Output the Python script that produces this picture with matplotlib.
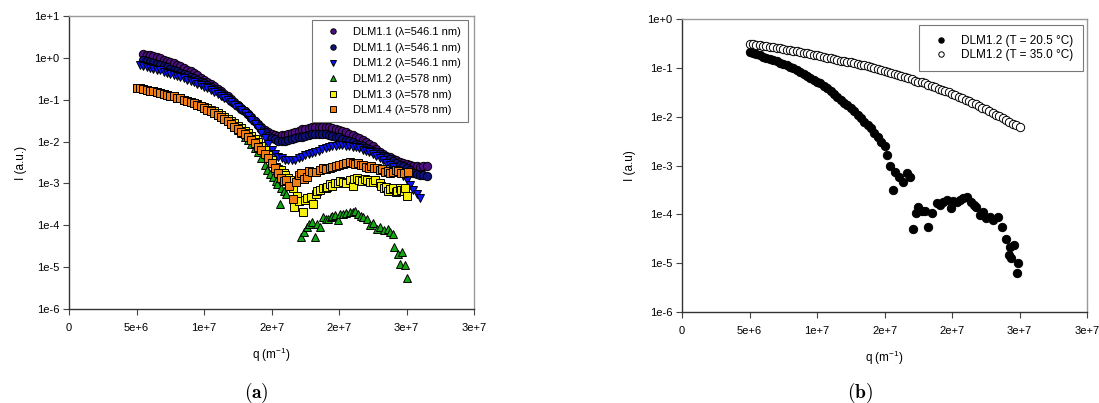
import matplotlib
matplotlib.use("Agg")
import matplotlib.pyplot as plt
import numpy as np
from matplotlib.ticker import FixedLocator, FixedFormatter, NullLocator

plt.rcParams['font.family'] = ['Liberation Sans', 'DejaVu Sans']
plt.rcParams['mathtext.fontset'] = 'custom'
plt.rcParams['mathtext.rm'] = 'Liberation Sans'

# ---- data (q in units of 1e6 m^-1, intensities as log10) ----

# (a) both DLM1.1 runs share one q grid
q_dlm11 = [5.5, 5.75,
           6.0, 6.25, 6.5, 6.75, 7.0, 7.25, 7.5, 7.75, 8.0, 8.25, 8.5, 8.75,
           9.0, 9.25, 9.5, 9.75, 10.0, 10.25, 10.5, 10.75, 11.0, 11.25, 11.5, 11.75,
           12.0, 12.25, 12.5, 12.75, 13.0, 13.25, 13.5, 13.75, 14.0, 14.25, 14.5, 14.75,
           15.0, 15.25, 15.5, 15.75, 16.0, 16.25, 16.5, 16.75, 17.0, 17.25, 17.5, 17.75,
           18.0, 18.25, 18.5, 18.75, 19.0, 19.25, 19.5, 19.75, 20.0, 20.25, 20.5, 20.75,
           21.0, 21.25, 21.5, 21.75, 22.0, 22.25, 22.5, 22.75, 23.0, 23.25, 23.5, 23.75,
           24.0, 24.25, 24.5, 24.75, 25.0, 25.25, 25.5, 25.75,
           26.0, 26.25, 26.5]
logI_dlm11_a = [0.10, 0.08,
                0.06, 0.04, 0.02, -0.01, -0.04, -0.07, -0.10, -0.13, -0.17, -0.20, -0.24, -0.28,
                -0.32, -0.37, -0.42, -0.47, -0.52, -0.57, -0.62, -0.68, -0.74, -0.80, -0.86, -0.92,
                -0.98, -1.05, -1.12, -1.19, -1.27, -1.34, -1.42, -1.50, -1.58, -1.65, -1.72, -1.77,
                -1.82, -1.84, -1.86, -1.85, -1.84, -1.82, -1.80, -1.77, -1.74, -1.71, -1.69, -1.67,
                -1.66, -1.65, -1.64, -1.64, -1.64, -1.65, -1.67, -1.69, -1.72, -1.75, -1.78, -1.81,
                -1.85, -1.88, -1.92, -1.96, -2.00, -2.05, -2.10, -2.17, -2.24, -2.29, -2.34, -2.38,
                -2.42, -2.45, -2.48, -2.50, -2.53, -2.55, -2.58, -2.59,
                -2.60, -2.59, -2.58]
logI_dlm11_b = [-0.06, -0.08,
                -0.10, -0.12, -0.15, -0.17, -0.20, -0.23, -0.26, -0.29, -0.32, -0.35, -0.38, -0.41,
                -0.45, -0.49, -0.53, -0.57, -0.61, -0.65, -0.70, -0.75, -0.80, -0.85, -0.90, -0.96,
                -1.02, -1.08, -1.14, -1.21, -1.28, -1.35, -1.43, -1.51, -1.60, -1.69, -1.78, -1.86,
                -1.92, -1.95, -1.98, -1.98, -1.98, -1.97, -1.95, -1.92, -1.90, -1.88, -1.86, -1.84,
                -1.83, -1.82, -1.82, -1.82, -1.83, -1.84, -1.86, -1.88, -1.90, -1.93, -1.96, -1.99,
                -2.02, -2.05, -2.08, -2.11, -2.15, -2.18, -2.22, -2.26, -2.30, -2.34, -2.38, -2.42,
                -2.46, -2.50, -2.55, -2.59, -2.63, -2.68, -2.74, -2.77,
                -2.80, -2.81, -2.82]

q_dlm12_546 = [5.25, 5.5, 5.75,
               6.0, 6.25, 6.5, 6.75, 7.0, 7.25, 7.5, 7.75, 8.0, 8.25, 8.5, 8.75,
               9.0, 9.25, 9.5, 9.75, 10.0, 10.25, 10.5, 10.75, 11.0, 11.25, 11.5, 11.75,
               12.0, 12.25, 12.5, 12.75, 13.0, 13.25, 13.5, 13.75, 14.0, 14.25, 14.5, 14.75,
               15.0, 15.25, 15.5, 15.75, 16.0, 16.25, 16.5, 16.75, 17.0, 17.25, 17.5, 17.75,
               18.0, 18.25, 18.5, 18.75, 19.0, 19.25, 19.5, 19.75, 20.0, 20.25, 20.5, 20.75,
               21.0, 21.25, 21.5, 21.75, 22.0, 22.25, 22.5, 22.75, 23.0, 23.25, 23.5, 23.75,
               24.0, 24.25, 24.5, 24.75, 25.0, 25.25, 25.5, 25.75, 26.0]
logI_dlm12_546 = [-0.16, -0.19, -0.22,
                  -0.24, -0.26, -0.28, -0.30, -0.33, -0.35, -0.38, -0.40, -0.43, -0.46, -0.49, -0.52,
                  -0.55, -0.58, -0.62, -0.65, -0.69, -0.73, -0.77, -0.81, -0.86, -0.91, -0.96, -1.01,
                  -1.06, -1.12, -1.18, -1.25, -1.32, -1.40, -1.48, -1.58, -1.68, -1.80, -1.92, -2.06,
                  -2.20, -2.29, -2.36, -2.40, -2.43, -2.45, -2.45, -2.43, -2.40, -2.37, -2.33, -2.30,
                  -2.27, -2.25, -2.22, -2.18, -2.15, -2.13, -2.11, -2.10, -2.09, -2.09, -2.10, -2.11,
                  -2.12, -2.14, -2.16, -2.19, -2.22, -2.26, -2.30, -2.35, -2.40, -2.45, -2.50, -2.55,
                  -2.60, -2.67, -2.75, -2.83, -2.92, -3.03, -3.15, -3.26, -3.34]

q_dlm12_578 = [5.0, 5.25, 5.5, 5.75, 6.0, 6.25, 6.5, 6.75, 7.0, 7.25, 7.5, 7.75,
               8.0, 8.25, 8.5, 8.75, 9.0, 9.25, 9.5, 9.75, 10.0, 10.25, 10.5, 10.75,
               11.0, 11.25, 11.5, 11.75, 12.0, 12.25, 12.5, 12.75, 13.0, 13.25, 13.5, 13.75,
               14.0, 14.25, 14.5, 14.7, 14.9, 15.1, 15.3, 15.4, 15.6, 15.7, 15.9, 16.1,
               17.2, 17.4, 17.6, 17.8, 18.0, 18.2, 18.4, 18.6, 18.8, 19.0, 19.2, 19.4,
               19.5, 19.7, 19.9, 20.1, 20.3, 20.5, 20.8, 21.0, 21.2, 21.4, 21.6, 21.8,
               22.1, 22.3, 22.5, 22.8, 23.0, 23.3, 23.6, 23.8, 24.0, 24.1, 24.4, 24.5,
               24.7, 24.9, 25.0]
logI_dlm12_578 = [-0.72, -0.73, -0.75, -0.76, -0.78, -0.80, -0.82, -0.84, -0.86, -0.88, -0.90, -0.92,
                  -0.95, -0.97, -1.00, -1.03, -1.06, -1.09, -1.12, -1.15, -1.19, -1.23, -1.27, -1.31,
                  -1.36, -1.41, -1.46, -1.52, -1.58, -1.65, -1.72, -1.80, -1.88, -1.96, -2.05, -2.15,
                  -2.25, -2.40, -2.55, -2.68, -2.78, -2.85, -2.95, -3.02, -3.50, -3.10, -3.17, -3.25,
                  -4.29, -4.15, -4.05, -3.98, -3.93, -4.29, -3.98, -4.05, -3.81, -3.86, -3.85, -3.80,
                  -3.77, -3.75, -3.88, -3.74, -3.72, -3.70, -3.69, -3.68, -3.65, -3.72, -3.77, -3.80,
                  -3.84, -4.00, -3.95, -4.08, -4.05, -4.12, -4.08, -4.15, -4.20, -4.53, -4.68, -4.92,
                  -4.65, -4.96, -5.25]

q_dlm13_578 = [5.0, 5.25, 5.5, 5.75, 6.0, 6.25, 6.5, 6.75, 7.0, 7.25, 7.5, 7.75,
               8.0, 8.25, 8.5, 8.75, 9.0, 9.25, 9.5, 9.75, 10.0, 10.25, 10.5, 10.75,
               11.0, 11.25, 11.5, 11.75, 12.0, 12.25, 12.5, 12.75, 13.0, 13.25, 13.5, 13.75,
               14.0, 14.25, 14.5, 14.75, 15.0, 15.3, 15.5, 15.7, 15.9, 16.0, 16.2, 16.4,
               16.6, 16.7, 16.9, 17.0, 17.3, 17.5, 17.6, 17.9, 18.1, 18.3, 18.4, 18.6,
               18.8, 19.0, 19.1, 19.3, 19.5, 19.7, 19.9, 20.1, 20.3, 20.5, 20.8, 21.0,
               21.1, 21.3, 21.5, 21.7, 21.9, 22.1, 22.3, 22.5, 22.7, 23.0, 23.1, 23.3,
               23.5, 23.6, 23.8, 24.0, 24.2, 24.3, 24.5, 24.6, 24.8, 24.9, 25.0]
logI_dlm13_578 = [-0.72, -0.73, -0.75, -0.76, -0.78, -0.80, -0.82, -0.84, -0.86, -0.88, -0.90, -0.92,
                  -0.95, -0.97, -1.00, -1.02, -1.05, -1.08, -1.11, -1.14, -1.17, -1.20, -1.24, -1.28,
                  -1.32, -1.36, -1.41, -1.46, -1.51, -1.56, -1.62, -1.68, -1.74, -1.80, -1.87, -1.94,
                  -2.02, -2.11, -2.20, -2.32, -2.45, -2.60, -2.65, -2.69, -2.75, -2.80, -2.86, -2.93,
                  -3.12, -3.57, -3.30, -3.41, -3.69, -3.40, -3.35, -3.33, -3.48, -3.25, -3.17, -3.15,
                  -3.12, -3.10, -3.09, -3.02, -3.05, -3.00, -3.00, -2.95, -2.97, -3.00, -2.93, -3.05,
                  -2.90, -2.88, -2.93, -2.95, -2.90, -2.93, -2.96, -2.97, -2.92, -3.00, -3.05, -3.10,
                  -3.08, -3.17, -3.13, -3.12, -3.20, -3.17, -3.10, -3.15, -3.18, -3.12, -3.29]

q_dlm14_578 = [5.0, 5.25, 5.5, 5.75, 6.0, 6.25, 6.5, 6.75, 7.0, 7.25, 7.5, 7.75,
               8.0, 8.25, 8.5, 8.75, 9.0, 9.25, 9.5, 9.75, 10.0, 10.25, 10.5, 10.75,
               11.0, 11.25, 11.5, 11.75, 12.0, 12.25, 12.5, 12.75, 13.0, 13.25, 13.5, 13.75,
               14.0, 14.25, 14.5, 14.75, 15.0, 15.25, 15.5, 15.7, 15.9, 16.1, 16.3, 16.6,
               16.8, 17.0, 17.2, 17.4, 17.6, 17.8, 18.0, 18.3, 18.6, 18.8, 19.0, 19.3,
               19.5, 19.8, 20.0, 20.3, 20.5, 20.8, 21.0, 21.2, 21.4, 21.6, 21.8, 22.0,
               22.2, 22.4, 22.6, 22.8, 23.0, 23.2, 23.4, 23.6, 23.8, 24.0, 24.2, 24.4,
               24.6, 24.8, 25.1]
logI_dlm14_578 = [-0.72, -0.73, -0.75, -0.76, -0.78, -0.80, -0.82, -0.84, -0.86, -0.88, -0.90, -0.92,
                  -0.95, -0.97, -1.00, -1.03, -1.06, -1.09, -1.12, -1.16, -1.20, -1.24, -1.28, -1.32,
                  -1.37, -1.42, -1.47, -1.52, -1.58, -1.64, -1.70, -1.76, -1.82, -1.89, -1.96, -2.04,
                  -2.12, -2.21, -2.30, -2.40, -2.50, -2.62, -2.75, -2.88, -2.95, -2.92, -3.05, -3.38,
                  -2.97, -2.80, -2.75, -2.90, -2.85, -2.70, -2.73, -2.72, -2.69, -2.64, -2.66, -2.62,
                  -2.60, -2.58, -2.57, -2.54, -2.52, -2.49, -2.51, -2.53, -2.50, -2.57, -2.55, -2.60,
                  -2.62, -2.58, -2.63, -2.64, -2.68, -2.66, -2.72, -2.70, -2.75, -2.73, -2.68, -2.70,
                  -2.76, -2.74, -2.72]

# (b) DLM1.2 at two temperatures
q_35 = [5.00, 5.25, 5.50, 5.75, 6.00, 6.25, 6.50, 6.75, 7.00, 7.25, 7.50, 7.75, 8.00,
        8.25, 8.50, 8.75, 9.00, 9.25, 9.50, 9.75, 10.00, 10.25, 10.50, 10.75, 11.00,
        11.25, 11.50, 11.75, 12.00, 12.25, 12.50, 12.75, 13.00, 13.25, 13.50, 13.75,
        14.00, 14.25, 14.50, 14.75, 15.00, 15.25, 15.50, 15.75, 16.00, 16.25, 16.50,
        16.75, 17.00, 17.25, 17.50, 17.75, 18.00, 18.25, 18.50, 18.75, 19.00, 19.25,
        19.50, 19.75, 20.00, 20.25, 20.50, 20.75, 21.00, 21.25, 21.50, 21.75, 22.00,
        22.25, 22.50, 22.75, 23.00, 23.25, 23.50, 23.75, 24.00, 24.25, 24.50, 24.75, 25.00]
logI_35 = [-0.51, -0.52, -0.53, -0.54, -0.55, -0.56, -0.57, -0.58, -0.59, -0.60, -0.61,
           -0.63, -0.64, -0.65, -0.66, -0.68, -0.69, -0.70, -0.71, -0.73, -0.74, -0.76,
           -0.77, -0.79, -0.80, -0.82, -0.83, -0.85, -0.86, -0.88, -0.89, -0.91, -0.92,
           -0.94, -0.95, -0.97, -0.98, -1.00, -1.02, -1.04, -1.06, -1.08, -1.10, -1.12,
           -1.14, -1.17, -1.19, -1.21, -1.23, -1.26, -1.28, -1.30, -1.32, -1.35, -1.38,
           -1.40, -1.43, -1.45, -1.48, -1.50, -1.53, -1.56, -1.59, -1.62, -1.65, -1.68,
           -1.71, -1.75, -1.78, -1.82, -1.85, -1.89, -1.92, -1.96, -1.99, -2.03, -2.06,
           -2.10, -2.14, -2.17, -2.21]

q_20 = [5.00, 5.25, 5.50, 5.75, 6.00, 6.25, 6.50, 6.75, 7.00, 7.25, 7.50, 7.75, 8.00,
        8.25, 8.50, 8.75, 9.00, 9.25, 9.50, 9.75, 10.00, 10.25, 10.50, 10.75, 11.00,
        11.25, 11.50, 11.75, 12.00, 12.25, 12.50, 12.75, 13.00, 13.25, 13.50, 13.75,
        14.00, 14.25, 14.50, 14.75, 15.00, 15.2, 15.4, 15.6, 15.8, 16.1, 16.4, 16.7,
        16.9, 17.1, 17.3, 17.5, 17.8, 18.0, 18.2, 18.5, 18.9, 19.1, 19.3, 19.6, 19.9,
        20.1, 20.4, 20.6, 20.8, 21.1, 21.4, 21.6, 21.8, 22.1, 22.3, 22.5, 22.8, 23.0,
        23.4, 23.7, 24.0, 24.2, 24.3, 24.4, 24.6, 24.8, 24.9]
logI_20 = [-0.68, -0.70, -0.72, -0.74, -0.77, -0.79, -0.82, -0.84, -0.87, -0.90, -0.93,
           -0.95, -0.98, -1.01, -1.05, -1.08, -1.12, -1.16, -1.20, -1.24, -1.28, -1.32,
           -1.37, -1.42, -1.48, -1.53, -1.59, -1.65, -1.71, -1.76, -1.82, -1.89, -1.96,
           -2.03, -2.10, -2.17, -2.24, -2.33, -2.42, -2.51, -2.60, -2.79, -3.01, -3.50,
           -3.14, -3.24, -3.34, -3.16, -3.24, -4.30, -3.98, -3.86, -3.93, -3.93, -4.26,
           -3.97, -3.77, -3.80, -3.75, -3.71, -3.87, -3.72, -3.75, -3.70, -3.67, -3.65,
           -3.75, -3.80, -3.85, -4.02, -3.95, -4.08, -4.06, -4.12, -4.06, -4.26, -4.51,
           -4.84, -4.67, -4.90, -4.63, -5.21, -5.00]

x_ticks = [0, 5e6, 1e7, 1.5e7, 2e7, 2.5e7, 3e7]
x_ticklabels = ["0", "5e+6", "1e+7", "2e+7", "2e+7", "3e+7", "3e+7"]


def to_xy(q, logI):
    n = min(len(q), len(logI))
    return np.array(q[:n]) * 1e6, 10.0 ** np.array(logI[:n])


def style_axes(ax, ymax_exp):
    ax.set_yscale('log')
    ax.set_xlim(0, 3e7)
    ax.set_ylim(1e-6, 10.0 ** ymax_exp)
    exps = list(range(-6, ymax_exp + 1))
    ax.yaxis.set_major_locator(FixedLocator([10.0 ** e for e in exps]))
    ax.yaxis.set_major_formatter(FixedFormatter(["1e%+d" % e for e in exps]))
    ax.yaxis.set_minor_locator(NullLocator())
    ax.xaxis.set_major_locator(FixedLocator(x_ticks))
    ax.xaxis.set_major_formatter(FixedFormatter(x_ticklabels))
    ax.tick_params(axis='both', direction='out', length=4, width=0.8,
                   labelsize=8, color='#444444')
    ax.tick_params(axis='y', pad=3)
    ax.tick_params(axis='x', pad=6)
    for s in ['left', 'bottom']:
        ax.spines[s].set_color('#333333')
        ax.spines[s].set_linewidth(1.0)
    for s in ['top', 'right']:
        ax.spines[s].set_color('#999999')
        ax.spines[s].set_linewidth(1.0)
    ax.set_xlabel(r'q (m$^{\mathregular{-1}}$)', fontsize=8.5, labelpad=9)


fig = plt.figure(figsize=(10.99, 4.03), dpi=100)
ax1 = fig.add_axes([69 / 1099, 94 / 403, 405 / 1099, 293 / 403])
ax2 = fig.add_axes([682 / 1099, 91 / 403, 405 / 1099, 293 / 403])

mk = dict(linestyle='none', markersize=6, markeredgecolor='black', markeredgewidth=0.7)

series_a = [
    (q_dlm11, logI_dlm11_a, 'o', '#4d0f80', 'DLM1.1 (λ=546.1 nm)'),
    (q_dlm11, logI_dlm11_b, 'o', '#10107a', 'DLM1.1 (λ=546.1 nm)'),
    (q_dlm12_546, logI_dlm12_546, 'v', '#0a14f5', 'DLM1.2 (λ=546.1 nm)'),
    (q_dlm12_578, logI_dlm12_578, '^', '#13a813', 'DLM1.2 (λ=578 nm)'),
    (q_dlm13_578, logI_dlm13_578, 's', '#f5f00f', 'DLM1.3 (λ=578 nm)'),
    (q_dlm14_578, logI_dlm14_578, 's', '#f27d12', 'DLM1.4 (λ=578 nm)'),
]
for q, li, m, c, lab in series_a:
    x, y = to_xy(q, li)
    ax1.plot(x, y, marker=m, markerfacecolor=c, label=lab, **mk)

style_axes(ax1, 1)
ax1.set_ylabel('I (a.u.)', fontsize=8.5, labelpad=5)
leg1 = ax1.legend(loc='upper right', bbox_to_anchor=(0.985, 0.986), borderaxespad=0,
                  fontsize=8, frameon=True, fancybox=False, edgecolor='#555555',
                  markerscale=0.65, handletextpad=0.55, labelspacing=0.5,
                  borderpad=0.65, handlelength=2.5)
leg1.get_frame().set_linewidth(0.8)

x, y = to_xy(q_20, logI_20)
ax2.plot(x, y, marker='o', markerfacecolor='black', label='DLM1.2 (T = 20.5 °C)', **mk)
x, y = to_xy(q_35, logI_35)
ax2.plot(x, y, marker='o', markerfacecolor='white', label='DLM1.2 (T = 35.0 °C)', **mk)

style_axes(ax2, 0)
ax2.set_ylabel('I (a.u)', fontsize=8.5, labelpad=8)
leg2 = ax2.legend(loc='upper right', bbox_to_anchor=(0.99, 0.98), borderaxespad=0,
                  fontsize=8.5, frameon=True, fancybox=False, edgecolor='#555555',
                  markerscale=0.65, handletextpad=0.75, labelspacing=0.2,
                  borderpad=0.85, handlelength=1.9)
leg2.get_frame().set_linewidth(0.8)

fig.text(256 / 1099, 1 - 393 / 403, r'$\mathbf{(a)}$', ha='center', va='center',
         fontsize=14, math_fontfamily='cm')
fig.text(860 / 1099, 1 - 393 / 403, r'$\mathbf{(b)}$', ha='center', va='center',
         fontsize=14, math_fontfamily='cm')

fig.savefig('out.png', dpi=100)
